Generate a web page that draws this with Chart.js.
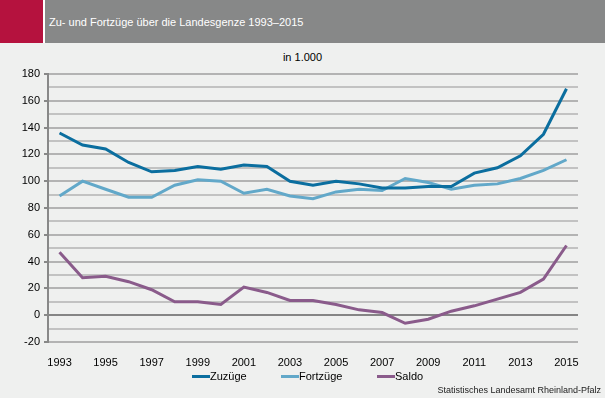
<!DOCTYPE html>
<html>
<head>
<meta charset="utf-8">
<script src="https://cdn.jsdelivr.net/npm/chart.js@4"></script>
<style>
  body { margin: 0; width: 605px; height: 398px; background: #eff0ef; font-family: "Liberation Sans", Arial, sans-serif; position: relative; overflow: hidden; }
  #head { position: absolute; left: 0; top: 0; width: 605px; height: 43px; background: #878888; }
  #red { position: absolute; left: 0; top: 0; width: 43px; height: 43px; background: #b5123e; border-right: 2px solid #fff; }
  #title { position: absolute; left: 49px; top: 16px; color: #fff; font-size: 11px; }
  #unit { position: absolute; left: 0; width: 605px; top: 51px; text-align: center; font-size: 11px; color: #000; }
  #wrap { position: absolute; left: 0; top: 44px; width: 605px; height: 354px; }
  #legend { position: absolute; top: 370px; left: 0; height: 14px; font-size: 11px; color: #000; }
  .item { position: absolute; top: 0; white-space: nowrap; }
  .sw { display: inline-block; width: 18px; height: 3px; vertical-align: middle; margin-top: -2px; }
  #source { position: absolute; right: 4px; top: 385px; font-size: 9px; color: #222; }
</style>
</head>
<body>
<div id="head"><div id="red"></div><div id="title">Zu- und Fortzüge über die Landesgenze 1993–2015</div></div>
<div id="unit">in 1.000</div>
<div id="wrap"><canvas id="chart" width="605" height="354"></canvas></div>
<div id="legend"></div>
<div id="source">Statistisches Landesamt Rheinland-Pfalz</div>
<script>
const years = [1993, 1994, 1995, 1996, 1997, 1998, 1999, 2000, 2001, 2002, 2003, 2004,
  2005, 2006, 2007, 2008, 2009, 2010, 2011, 2012, 2013, 2014, 2015];
const zuzuege = [136, 127, 124, 114, 107, 108, 111, 109, 112, 111, 100, 97,
  100, 98, 95, 95, 96, 96, 106, 110, 119, 135, 169];
const fortzuege = [89, 100, 94, 88, 88, 97, 101, 100, 91, 94, 89, 87,
  92, 94, 93, 102, 99, 94, 97, 98, 102, 108, 116];
const saldo = [47, 28, 29, 25, 19, 10, 10, 8, 21, 17, 11, 11,
  8, 4, 2, -6, -3, 3, 7, 12, 17, 27, 52];
// y gridlines every 10, labels only on multiples of 20
const yTicks = [-20, -10, 0, 10, 20, 30, 40, 50, 60, 70, 80, 90, 100,
  110, 120, 130, 140, 150, 160, 170, 180];

const series = [
  { label: "Zuzüge", data: zuzuege, color: "#0b6e9f" },
  { label: "Fortzüge", data: fortzuege, color: "#62a8c9" },
  { label: "Saldo", data: saldo, color: "#8a5b8b" }
];

// legend (html), same look as the original
const legendX = [192, 281, 377];
const legend = document.getElementById("legend");
series.forEach((s, i) => {
  const el = document.createElement("div");
  el.className = "item";
  el.style.left = legendX[i] + "px";
  el.innerHTML = '<span class="sw" style="background:' + s.color + '"></span>' + s.label;
  legend.appendChild(el);
});

// grid + y axis line, drawn from the y scale before the lines
const gridPlugin = {
  id: "gridLines",
  beforeDatasetsDraw(chart) {
    const y = chart.scales.y, a = chart.chartArea, c = chart.ctx;
    c.save();
    yTicks.forEach(v => {
      const py = Math.round(y.getPixelForValue(v));
      const major = v % 20 === 0;
      c.strokeStyle = v === 0 ? "#858585" : "#b3b3b3";
      c.lineWidth = major ? 2 : 1.5;
      c.beginPath();
      c.moveTo(a.left, py);
      c.lineTo(a.right, py);
      c.stroke();
      if (major) {
        c.strokeStyle = "#888888";
        c.lineWidth = 2;
        c.beginPath();
        c.moveTo(a.left - 4, py);
        c.lineTo(a.left, py);
        c.stroke();
      }
    });
    c.strokeStyle = "#888888";
    c.lineWidth = 2;
    c.beginPath();
    c.moveTo(a.left, Math.round(y.getPixelForValue(180)) - 1);
    c.lineTo(a.left, Math.round(y.getPixelForValue(-20)) + 1);
    c.stroke();
    c.restore();
  }
};

const ctx = document.getElementById("chart").getContext("2d");
new Chart(ctx, {
  type: "line",
  data: {
    labels: years,
    datasets: series.map(s => ({
      label: s.label,
      data: s.data,
      borderColor: s.color,
      backgroundColor: s.color,
      borderWidth: 3,
      pointRadius: 0,
      tension: 0,
      fill: false
    }))
  },
  options: {
    responsive: false,
    animation: false,
    layout: { padding: { top: 30, right: 27, bottom: 0, left: 0 } },
    plugins: { legend: { display: false }, tooltip: { enabled: false } },
    scales: {
      x: {
        offset: true,
        grid: { display: false },
        border: { display: false },
        ticks: {
          autoSkip: false,
          maxRotation: 0,
          padding: 6,
          color: "#000",
          font: { family: "Liberation Sans", size: 11 },
          callback: (v, i) => (i % 2 === 0 ? years[i] : "")
        },
        afterFit: s => { s.height = 56; }
      },
      y: {
        min: -20,
        max: 180,
        afterBuildTicks: s => { s.ticks = yTicks.map(v => ({ value: v })); },
        ticks: {
          autoSkip: false,
          padding: 8,
          color: "#000",
          font: { family: "Liberation Sans", size: 11 },
          callback: v => (v % 20 === 0 ? v : "")
        },
        grid: { display: false, drawTicks: false },
        border: { display: false },
        afterFit: s => { s.width = 48; }
      }
    }
  },
  plugins: [gridPlugin]
});
</script>
</body>
</html>
